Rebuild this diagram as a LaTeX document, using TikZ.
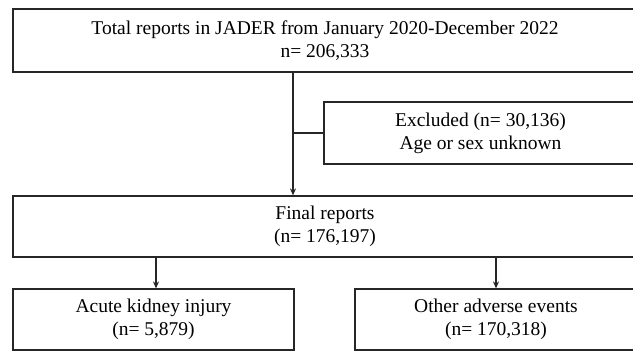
\documentclass[tikz,border=0pt]{standalone}
\usepackage{fontspec}
\setmainfont{Liberation Serif}
\usetikzlibrary{arrows.meta}
\begin{document}
\begin{tikzpicture}[x=1pt,y=-1pt,
  box/.style={draw=black!85,line width=1.2pt,inner sep=0pt,align=center,
    font=\fontsize{19.5}{23}\selectfont,text=black},
  conn/.style={draw=black!85,line width=1.6pt},
  arr/.style={conn,-{Stealth[length=7pt,width=6pt]}}]
\clip (0,0) rectangle (633,352);
\fill[white] (0,0) rectangle (633,352);
% boxes: centers from pixel corners
\node[box,minimum width=624pt,minimum height=63pt] (top) at (325,40.5)
  {Total reports in JADER from January 2020-December 2022\\n= 206,333};
\node[box,minimum width=313pt,minimum height=62pt] (excl) at (480.5,133)
  {Excluded (n= 30,136)\\Age or sex unknown};
\node[box,minimum width=624pt,minimum height=61pt] (final) at (325,226.5)
  {Final reports\\(n= 176,197)};
\node[box,minimum width=281pt,minimum height=61pt] (aki) at (153.5,319.5)
  {Acute kidney injury\\(n= 5,879)};
\node[box,minimum width=282pt,minimum height=61pt] (other) at (496,319.5)
  {Other adverse events\\(n= 170,318)};
% connectors
\coordinate (branch) at (293,133);
\draw[arr] (top.south -| branch) -- (final.north -| branch);
\draw[conn] (branch) -- (excl.west);
\draw[arr] (final.south -| aki.north) ++(2.5,0) coordinate (a1) -- (a1 |- aki.north);
\draw[arr] (final.south -| other.north) -- (other.north);
\end{tikzpicture}
\end{document}
